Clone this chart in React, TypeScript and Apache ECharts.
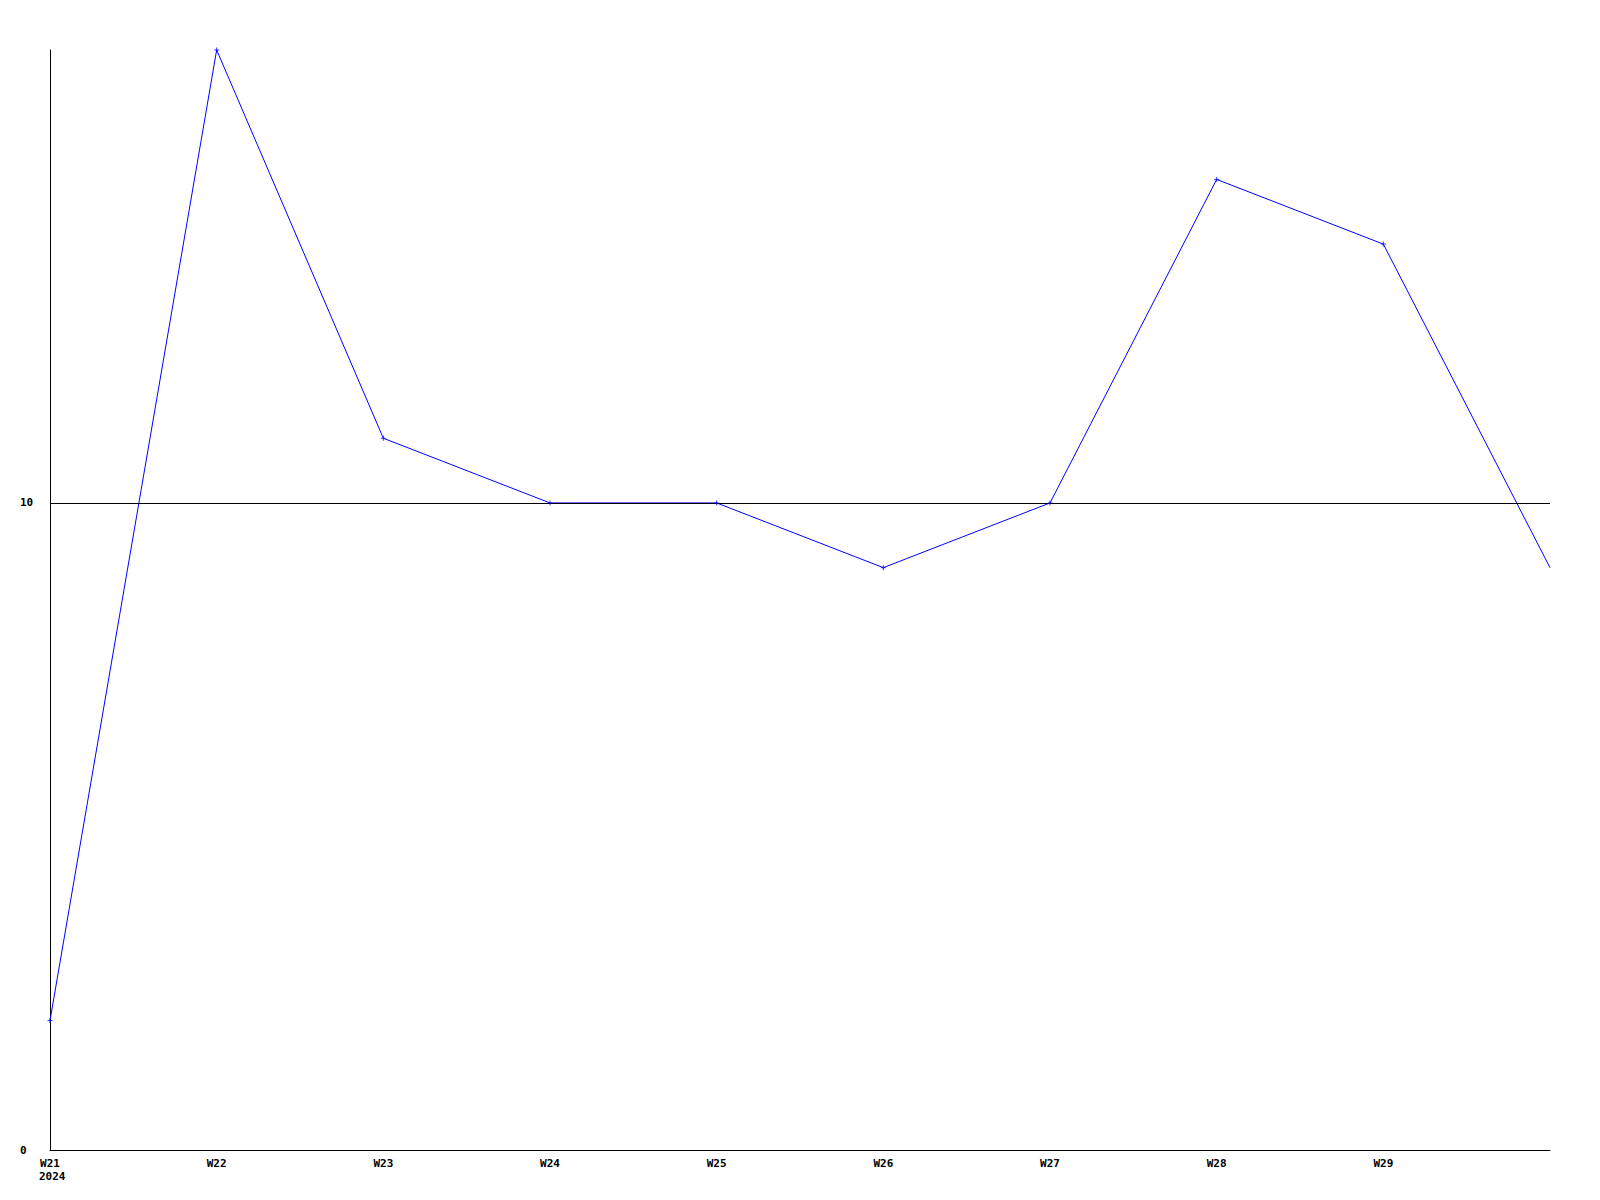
import React, { useEffect, useRef } from "react";
import * as echarts from "echarts";

const weeks = ["W21", "W22", "W23", "W24", "W25", "W26", "W27", "W28", "W29", "W30"];
const values = [2, 17, 11, 10, 10, 9, 10, 15, 14, 9];
const yearLabel = "2024";
const yTicks = [0, 10];
const referenceLine = 10;

const FONT = "'DejaVu Sans Mono', 'Liberation Mono', monospace";
const PLUS = "path://M2,0H3V2H5V3H3V5H2V3H0V2H2Z";

export default function App() {
  const ref = useRef<HTMLDivElement>(null);
  useEffect(() => {
    if (!ref.current) return;
    const chart = echarts.init(ref.current, undefined, { renderer: "svg" });
    const lastIdx = values.length - 1;
    chart.setOption({
      animation: false,
      backgroundColor: "#ffffff",
      grid: { left: 50, right: 50, top: 50, bottom: 50, containLabel: false },
      xAxis: {
        type: "category",
        data: weeks,
        boundaryGap: false,
        axisLine: { show: true, lineStyle: { color: "#000", width: 1 } },
        axisTick: { show: false },
        splitLine: { show: false },
        axisLabel: {
          interval: 0,
          margin: 8,
          color: "#000",
          fontFamily: FONT,
          fontWeight: "bold",
          fontSize: 11,
          formatter: (v: string, i: number) => (i === lastIdx ? "" : v),
        },
      },
      yAxis: {
        type: "value",
        min: 0,
        max: 17,
        interval: 10,
        axisLine: { show: true, lineStyle: { color: "#000", width: 1 } },
        axisTick: { show: false },
        splitLine: { show: false },
        axisLabel: {
          margin: 30,
          align: "left",
          color: "#000",
          fontFamily: FONT,
          fontWeight: "bold",
          fontSize: 11,
          showMaxLabel: false,
          formatter: (v: number) => (yTicks.includes(v) ? String(v) : ""),
        },
      },
      graphic: [
        {
          type: "text",
          left: 39,
          top: 1171,
          style: {
            text: yearLabel,
            fill: "#000",
            font: `bold 11px ${FONT}`,
          },
        },
      ],
      series: [
        {
          type: "line",
          data: values,
          symbol: "none",
          lineStyle: { color: "#0000ff", width: 1 },
          itemStyle: { color: "#0000ff" },
          silent: true,
          z: 1,
          markLine: {
            silent: true,
            symbol: "none",
            label: { show: false },
            lineStyle: { color: "#000", width: 1, type: "solid" },
            data: [{ yAxis: referenceLine }],
          },
        },
        {
          type: "scatter",
          data: values.map((v, i) =>
            i === lastIdx ? { value: v, symbol: "none" } : v
          ),
          symbol: PLUS,
          symbolSize: 5,
          itemStyle: { color: "#0000ff" },
          z: 8,
        },
      ],
    });
    return () => chart.dispose();
  }, []);
  return (
    <div
      ref={ref}
      style={{ position: "fixed", left: 0, top: 0, width: 1600, height: 1200 }}
    />
  );
}
